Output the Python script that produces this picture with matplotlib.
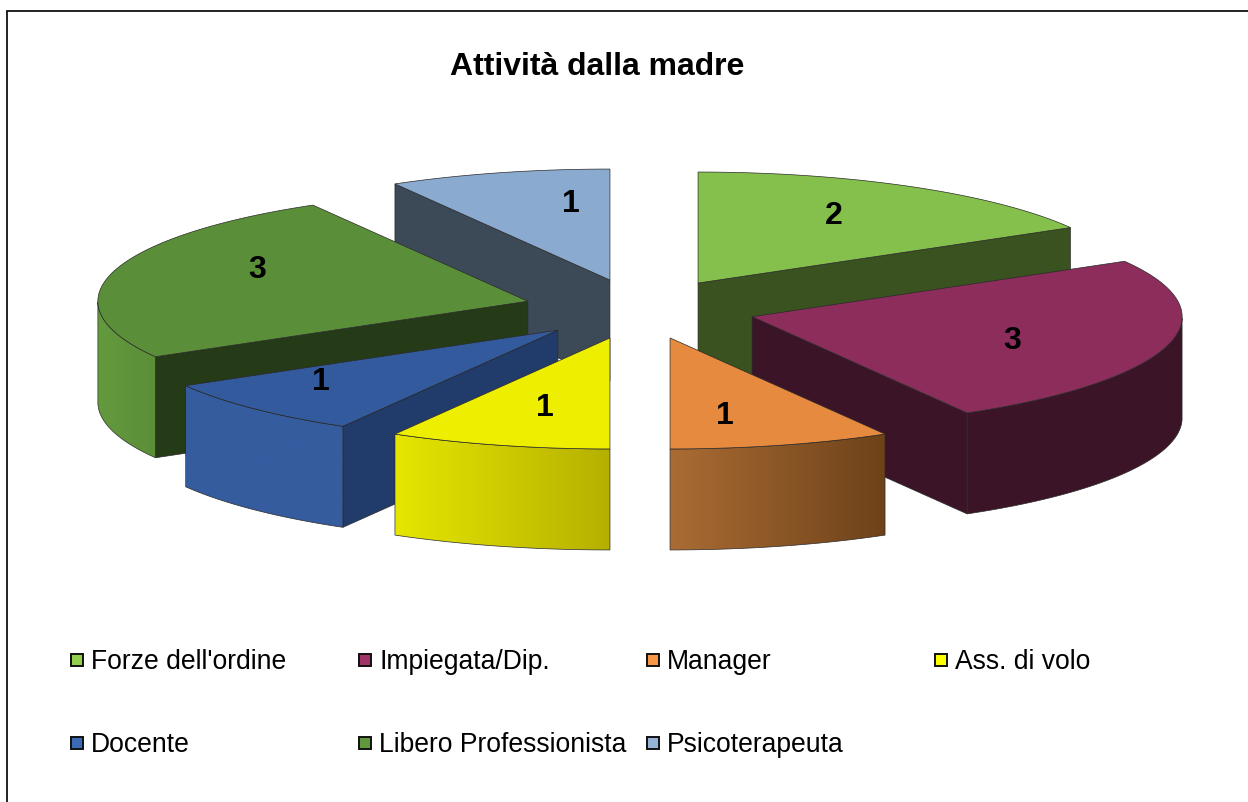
import numpy as np
import matplotlib
matplotlib.use('Agg')
import matplotlib.pyplot as plt
from matplotlib.patches import Polygon, Rectangle

plt.rcParams['font.family'] = ['Liberation Sans', 'DejaVu Sans']

# dati
categories = ['Forze dell\'ordine', 'Impiegata/Dip.', 'Manager', 'Ass. di volo',
              'Docente', 'Libero Professionista', 'Psicoterapeuta']
values = [2, 3, 1, 1, 1, 3, 1]
title = 'Attività dalla madre'

# colori: faccia superiore, taglio, parete esterna (sinistra, destra)
top_colors = ['#86c04c', '#8c2d5c', '#e58a3e', '#eeee00', '#345a9e', '#5b8e38', '#8aaacf']
cut_colors = ['#3a5220', '#3c1428', '#6e4219', '#b5b000', '#213b6a', '#253a16', '#3c4a58']
wall_left = ['#3a5220', '#3c1428', '#aa6c34', '#e6e600', '#355c9e', '#649a3e', '#3c4a58']
wall_right = ['#3a5220', '#3c1428', '#6e4219', '#b5b000', '#355c9e', '#5b8e38', '#3c4a58']
legend_colors = ['#92d050', '#a03468', '#f79646', '#ffff00', '#3c6ab4', '#60993c', '#95b3d7']

# ordine di disegno, dal fondo verso il davanti
draw_order = [6, 0, 5, 1, 4, 3, 2]
# piccoli spostamenti delle etichette (px)
label_nudge = [(2, -8), (2, 5), (-14, 11), (4, 3), (-49, 2), (-13, -14), (30, -11)]

# geometria del disco in pixel
cx, cy = 640, 310
rx, ry = 430, 111
explode = 0.27
depth = 101
edge = '#2a2a2a'


def point(ax_x, ax_y, theta, fx, fy=None):
    fy = fx if fy is None else fy
    return ax_x + fx * rx * np.sin(theta), ax_y - fy * ry * np.cos(theta)


fig = plt.figure(figsize=(12.48, 8.03), dpi=100)
ax = fig.add_axes([0, 0, 1, 1])
ax.set_xlim(0, 1248)
ax.set_ylim(803, 0)
ax.axis('off')

# cornice (solo sinistra e alto)
ax.plot([7, 7, 1248], [803, 12, 12], color='#111111', lw=1.3, solid_joinstyle='miter')

ax.text(597, 67, title, fontsize=23, fontweight='bold', ha='center', va='center')

total = sum(values)
edges = np.cumsum([0] + values) / total * 2 * np.pi
z = 2
for i in draw_order:
    t1, t2 = edges[i], edges[i + 1]
    mid = (t1 + t2) / 2
    ox, oy = point(cx, cy, mid, explode)
    ts = np.linspace(t1, t2, 80)
    arc_x, arc_y = point(ox, oy, ts, 1)

    # facce di taglio visibili
    for t, normal in ((t1, t1 - np.pi / 2), (t2, t2 + np.pi / 2)):
        if np.cos(normal) < -1e-6:
            px, py = point(ox, oy, t, 1)
            ax.add_patch(Polygon([(ox, oy), (px, py), (px, py + depth), (ox, oy + depth)],
                                 fc=cut_colors[i], ec=edge, lw=0.5, zorder=z))
            z += 1

    # parete esterna, solo la parte davanti
    front = np.cos(ts) <= 1e-6
    if front.any():
        fx, fy = arc_x[front], arc_y[front]
        verts = np.vstack([np.c_[fx, fy], np.c_[fx, fy + depth][::-1]])
        wall = Polygon(verts, fc='none', ec=edge, lw=0.5, zorder=z + 1)
        ax.add_patch(wall)
        left = np.array(matplotlib.colors.to_rgb(wall_left[i]))
        right = np.array(matplotlib.colors.to_rgb(wall_right[i]))
        grad = np.linspace(left, right, 200)[None, :, :]
        im = ax.imshow(grad, extent=(fx.min(), fx.max(), fy.max() + depth, fy.min()),
                       aspect='auto', zorder=z)
        clip = Polygon(verts, transform=ax.transData)
        im.set_clip_path(clip)
        z += 2

    # faccia superiore
    ax.add_patch(Polygon(np.vstack([[ox, oy], np.c_[arc_x, arc_y]]),
                         fc=top_colors[i], ec=edge, lw=0.5, zorder=z))
    z += 1

ax.set_xlim(0, 1248)
ax.set_ylim(803, 0)

# etichette con i valori
for i, v in enumerate(values):
    mid = (edges[i] + edges[i + 1]) / 2
    ox, oy = point(cx, cy, mid, explode)
    lx, ly = point(ox, oy, mid, 0.62)
    ax.text(lx + label_nudge[i][0], ly + label_nudge[i][1], str(v), fontsize=23,
            fontweight='bold', ha='center', va='center', zorder=100)

# legenda su griglia di 4 colonne
for i, name in enumerate(categories):
    col, row = i % 4, i // 4
    x0 = 71 + col * 288
    y0 = 661 + row * 83
    ax.add_patch(Rectangle((x0, y0 - 6), 12, 12, fc=legend_colors[i], ec='#111111', lw=1.4))
    ax.text(x0 + 20, y0 + 1, name, fontsize=19.1, ha='left', va='center')

fig.savefig('out.png', dpi=100)
